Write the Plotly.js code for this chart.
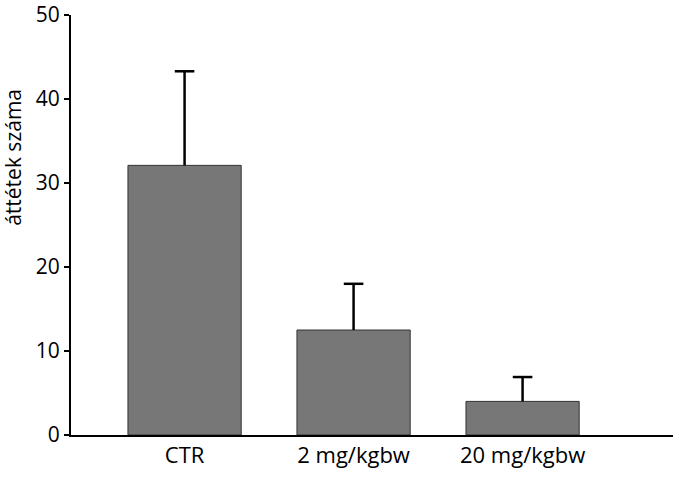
<!DOCTYPE html>
<html>
<head>
<meta charset="utf-8">
<script src="https://cdn.plot.ly/plotly-3.0.1.min.js"></script>
<style>html,body{margin:0;padding:0;background:#fff;}#chart{width:673px;height:477px;}</style>
</head>
<body>
<div id="chart"></div>
<script>
const categories = ["CTR", "2 mg/kgbw", "20 mg/kgbw"];
const means = [32.1, 12.5, 4.0];
const errPlus = [11.2, 5.5, 2.9];
const yTicks = [0, 10, 20, 30, 40, 50];
const yTitle = 'áttétek száma';

const bars = {
  type: 'bar',
  x: categories,
  y: means,
  width: 0.67,
  marker: {color: '#777777', line: {color: '#333333', width: 1}},
  hoverinfo: 'skip'
};

const ex = [], ey = [];
categories.forEach((c, i) => { ex.push(c, c, null); ey.push(means[i], means[i] + errPlus[i], null); });
const whisker = {
  type: 'scatter', mode: 'lines', x: ex, y: ey,
  line: {color: '#000000', width: 2.5}, hoverinfo: 'skip', cliponaxis: false
};
const caps = {
  type: 'scatter', mode: 'markers', x: categories, y: means.map((m, i) => m + errPlus[i]),
  marker: {symbol: 'line-ew', size: 14, line: {color: '#000000', width: 2.5}},
  hoverinfo: 'skip', cliponaxis: false
};

const layout = {
  width: 673, height: 477,
  margin: {l: 71, r: 0, t: 15, b: 42, pad: 0},
  paper_bgcolor: '#ffffff', plot_bgcolor: '#ffffff',
  showlegend: false,
  font: {family: '"Open Sans", sans-serif', color: '#000000', size: 22},
  xaxis: {
    type: 'category',
    range: [-0.672, 2.89],
    showline: true, linecolor: '#000000', linewidth: 2,
    ticks: '', showgrid: false, zeroline: false,
    tickfont: {size: 22}
  },
  yaxis: {
    range: [0, 50],
    tickvals: yTicks,
    ticktext: yTicks.map(String),
    ticklabeloverflow: 'allow',
    showline: true, linecolor: '#000000', linewidth: 2,
    ticks: 'outside', ticklen: 5, tickwidth: 2, tickcolor: '#000000',
    showgrid: false, zeroline: false,
    tickfont: {size: 21}
  },
  annotations: [{
    text: yTitle, textangle: -90, showarrow: false,
    xref: 'paper', yref: 'paper', x: -0.0963, y: 0.66,
    xanchor: 'center', yanchor: 'middle',
    font: {size: 21, color: '#000000'}
  }]
};

Plotly.newPlot('chart', [bars, whisker, caps], layout, {displayModeBar: false, staticPlot: true});
</script>
</body>
</html>
